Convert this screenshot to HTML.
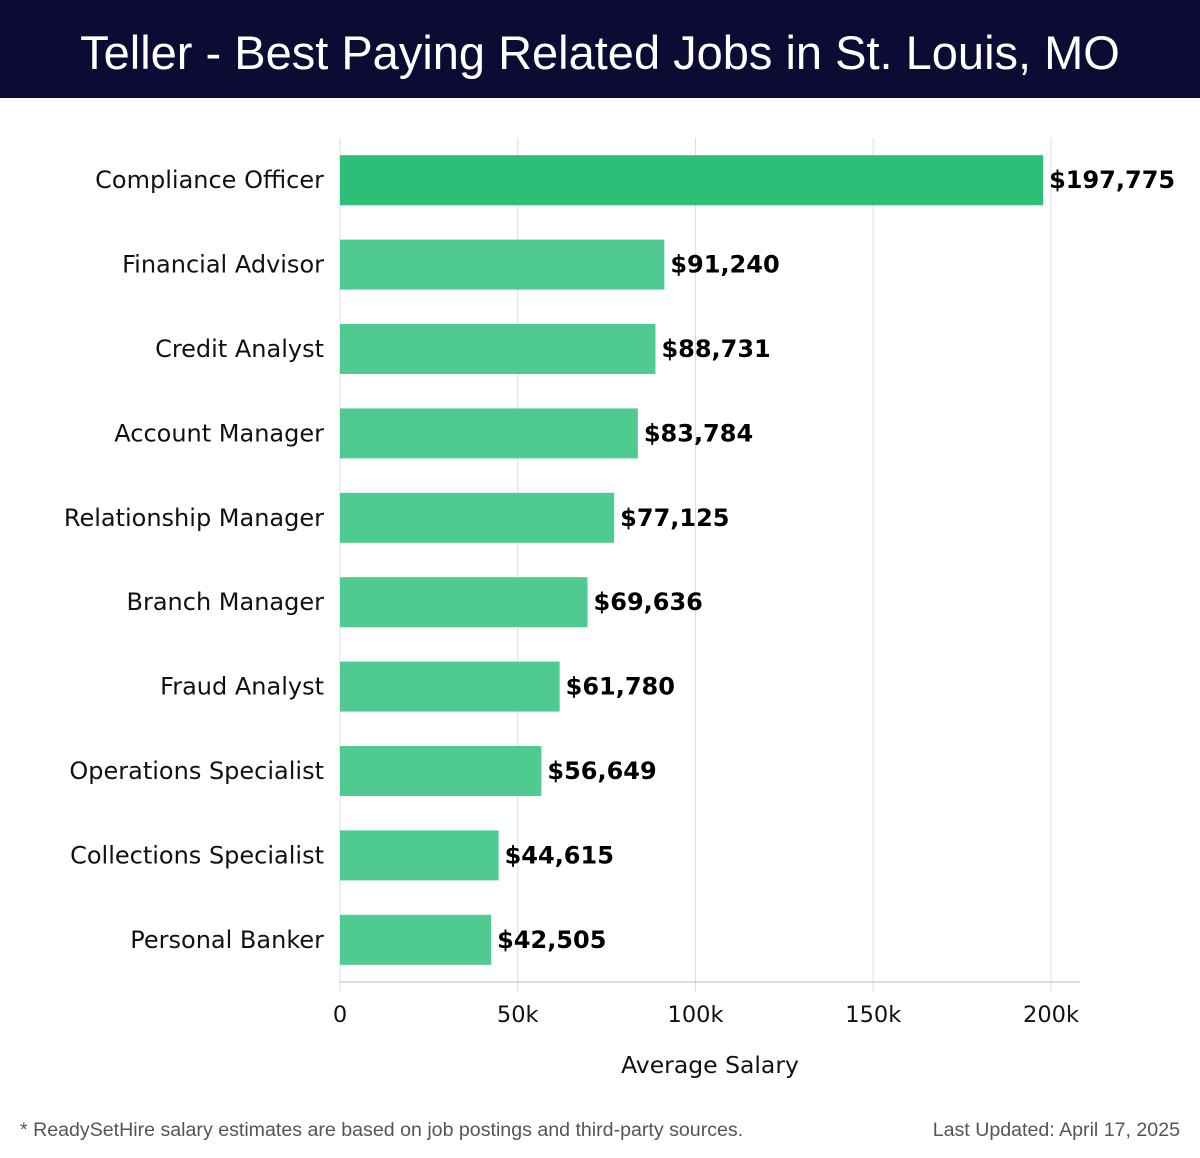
<!DOCTYPE html>
<html><head><meta charset="utf-8"><style>
body{margin:0;width:1200px;height:1158px;background:#fff;overflow:hidden;font-family:"DejaVu Sans","Liberation Sans",sans-serif;}
#hdr{position:absolute;left:0;top:0;width:1200px;height:98px;background:#0b0b33;color:#fff;font-family:"Liberation Sans",sans-serif;font-size:47px;text-align:center;line-height:106px;}
.foot{position:absolute;top:1119px;font-family:"Liberation Sans",sans-serif;font-size:19.6px;color:#555;}
</style></head><body>
<div id="hdr">Teller - Best Paying Related Jobs in St. Louis, MO</div>
<svg id="chart" width="1200" height="1158" style="position:absolute;left:0;top:0"></svg>
<div class="foot" style="left:20px">* ReadySetHire salary estimates are based on job postings and third-party sources.</div>
<div class="foot" style="right:20px">Last Updated: April 17, 2025</div>
<script>
const categories=["Compliance Officer","Financial Advisor","Credit Analyst","Account Manager","Relationship Manager","Branch Manager","Fraud Analyst","Operations Specialist","Collections Specialist","Personal Banker"];
const values=[197775,91240,88731,83784,77125,69636,61780,56649,44615,42505];
const ticks=[0,50000,100000,150000,200000];
const tickLabels=["0","50k","100k","150k","200k"];
const NS="http://www.w3.org/2000/svg";
const svg=document.getElementById('chart');
const x0=340,x1=1051,top0=138,step=84.4,bottom=982;
const xs=v=>x0+(v/200000)*(x1-x0);
const yc=i=>top0+step*(i+0.5);
function mk(t,a){const e=document.createElementNS(NS,t);for(const k in a)e.setAttribute(k,a[k]);svg.appendChild(e);return e;}
ticks.forEach((t,i)=>{
 const g=mk('line',{x1:xs(t),x2:xs(t),y1:top0,y2:992,stroke:'#dddddd','stroke-width':1});
 
 
 const l=mk('text',{x:xs(t),y:1022,'text-anchor':'middle','font-size':22.5,fill:'#111'});
 l.textContent=tickLabels[i];
 
 
});
const ax=mk('line',{x1:x0,x2:1080,y1:bottom,y2:bottom,stroke:'#d0d0d0','stroke-width':1.5});


categories.forEach((c,i)=>{
 const y=yc(i);
 const b=mk('rect',{x:x0,y:y-25,width:xs(values[i])-x0,height:50,fill:i===0?'#2dbf77':'#4fca91'});
 
 
 const l=mk('text',{x:324,y:y+8,'text-anchor':'end','font-size':24,fill:'#111'});
 l.textContent=c;
 
 
 const v=mk('text',{x:xs(values[i])+6,y:y+8,'font-size':24,'font-weight':'bold',fill:'#000'});
 v.textContent='$'+values[i].toLocaleString('en-US');
 
 
});
const t=mk('text',{x:710,y:1073,'text-anchor':'middle','font-size':23.5,fill:'#111'});
t.textContent='Average Salary';


</script>
</body></html>
